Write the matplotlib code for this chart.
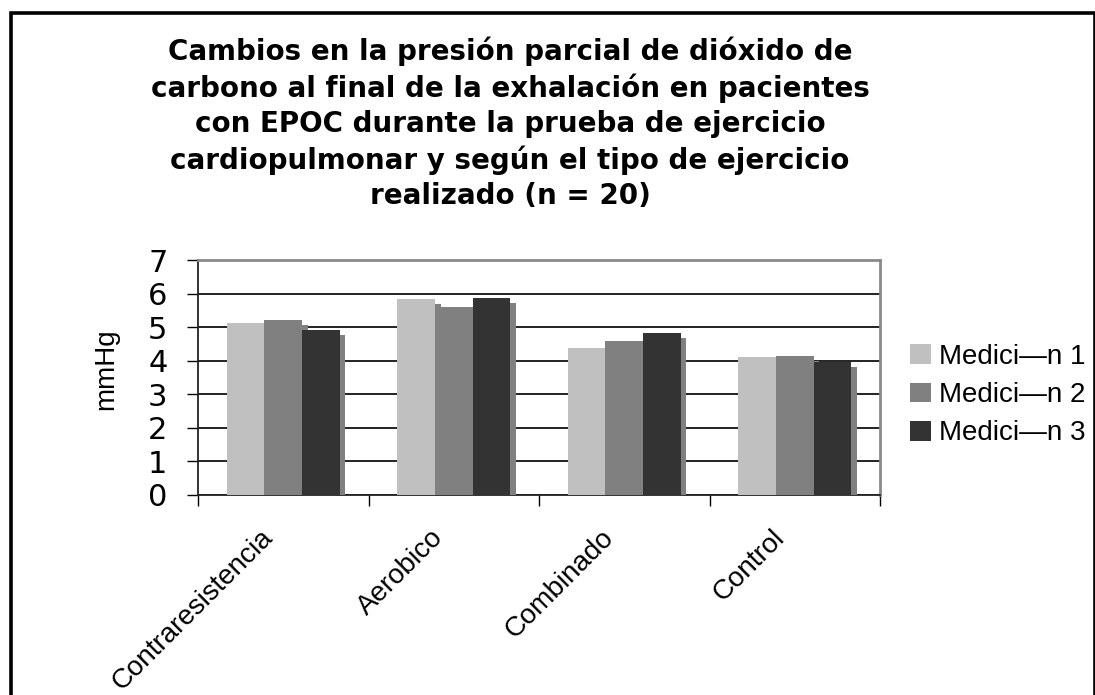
import matplotlib

matplotlib.use("Agg")
import matplotlib.pyplot as plt
import matplotlib.patheffects as pe
import numpy as np
from matplotlib.patches import Patch, Rectangle
from matplotlib.transforms import ScaledTranslation


categories = ["Contraresistencia", "Aerobico", "Combinado", "Control"]
series_names = ["Medici\u2014n 1", "Medici\u2014n 2", "Medici\u2014n 3"]
medicion_1 = [5.12, 5.83, 4.38, 4.11]
medicion_2 = [5.21, 5.60, 4.59, 4.14]
medicion_3 = [4.91, 5.87, 4.83, 3.96]
y_ticks = [0, 1, 2, 3, 4, 5, 6, 7]

TITLE = (
    "Cambios en la presión parcial de dióxido de\n"
    "carbono al final de la exhalación en pacientes\n"
    "con EPOC durante la prueba de ejercicio\n"
    "cardiopulmonar y según el tipo de ejercicio\n"
    "realizado (n = 20)"
)

colors = ["#c0c0c0", "#808080", "#333333"]
W, H = 1095, 695


def px(x, y):
    # pixel position (from top-left) -> figure fraction
    return x / W, 1 - y / H


fig = plt.figure(figsize=(W / 100, H / 100), dpi=100)
ax = fig.add_axes([198 / W, 1 - 495 / H, 682 / W, 235 / H])

x = np.arange(len(categories))
width = 0.22
shadow = [pe.SimplePatchShadow(offset=(4.3, -3.6), shadow_rgbFace="#808080", alpha=1.0), pe.Normal()]

for i, (vals, color) in enumerate(zip([medicion_1, medicion_2, medicion_3], colors)):
    bars = ax.bar(x + (i - 1) * width, vals, width, color=color, zorder=3)
    for b in bars:
        b.set_path_effects(shadow)

ax.set_xlim(-0.5, 3.5)
ax.set_ylim(0, 7)
ax.set_yticks(y_ticks)
ax.yaxis.grid(True, color="#111111", linewidth=1.3)
ax.set_axisbelow(True)

for side in ["top", "right"]:
    ax.spines[side].set_color("#8a8a8a")
    ax.spines[side].set_linewidth(2)
for side in ["left", "bottom"]:
    ax.spines[side].set_color("#222222")
    ax.spines[side].set_linewidth(1.3)

ax.tick_params(axis="y", direction="out", length=8, width=1, pad=14, labelsize=22)
for lab in ax.get_yticklabels():
    lab.set_fontfamily("DejaVu Sans")

# labels at category centres, tick marks at the boundaries
ax.set_xticks(x)
ax.set_xticks(np.arange(-0.5, 4, 1), minor=True)
ax.tick_params(axis="x", which="major", length=0, pad=28)
ax.tick_params(axis="x", which="minor", direction="out", length=8, width=1)
ax.set_xticklabels(categories, rotation=45, ha="right", va="center",
                   rotation_mode="anchor", fontsize=20, fontfamily="Liberation Sans")
shift = ScaledTranslation(-14 / 100, 0, fig.dpi_scale_trans)
for lab in ax.get_xticklabels():
    lab.set_transform(lab.get_transform() + shift)

fig.text(*px(106, 369), "mmHg", rotation=90, ha="center", va="center",
         fontsize=20, fontfamily="Liberation Sans")

fig.text(*px(510, 36), TITLE, ha="center", va="top", multialignment="center",
         fontsize=20, fontweight="bold", fontfamily="DejaVu Sans", linespacing=1.32)

handles = [Patch(facecolor=c, edgecolor="none") for c in colors]
ax.legend(handles, series_names, loc="center left", bbox_to_anchor=px(910, 395),
          bbox_transform=fig.transFigure, frameon=False, borderaxespad=0, borderpad=0,
          handlelength=0.77, handleheight=0.7, handletextpad=0.28, labelspacing=0.45,
          prop={"family": "Liberation Sans", "size": 20})

# outer chart border (bottom edge runs off the image)
fig.add_artist(Rectangle(px(11, 760), (1095 - 11) / W, (760 - 12.5) / H,
                         transform=fig.transFigure, fill=False, edgecolor="black",
                         linewidth=2.6, clip_on=False))

fig.savefig("out.png", dpi=100)
